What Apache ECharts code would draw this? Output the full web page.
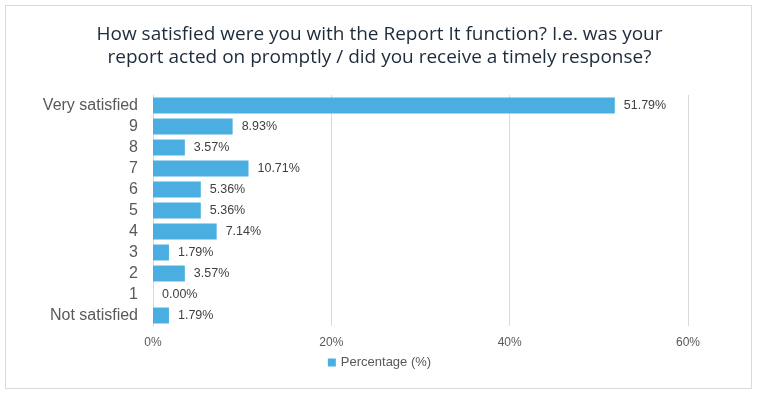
<!DOCTYPE html>
<html>
<head>
<meta charset="utf-8">
<script src="https://cdn.jsdelivr.net/npm/echarts@6/dist/echarts.min.js"></script>
<style>
  html, body { margin: 0; padding: 0; background: #fff; }
  #frame {
    position: absolute; left: 5px; top: 5px; width: 747px; height: 384px;
    border: 1px solid #d9d9d9; box-sizing: border-box;
  }
  #chart { position: absolute; left: 0; top: 0; width: 759px; height: 397px; }
</style>
</head>
<body>
<div id="frame"></div>
<div id="chart"></div>
<script>
// top to bottom order as in the picture
var categories = ['Very satisfied', '9', '8', '7', '6', '5', '4', '3', '2', '1', 'Not satisfied'];
var percentage = [51.79, 8.93, 3.57, 10.71, 5.36, 5.36, 7.14, 1.79, 3.57, 0.00, 1.79];
var xTicks = [0, 20, 40, 60];

var chart = echarts.init(document.getElementById('chart'));

var option = {
  animation: false,
  title: {
    text: 'How satisfied were you with the Report It function? I.e. was your\nreport acted on promptly / did you receive a timely response?',
    left: 'center',
    top: 18,
    textStyle: {
      fontFamily: 'Open Sans',
      fontSize: 19,
      fontWeight: 'normal',
      color: '#1d2b3a',
      lineHeight: 23
    }
  },
  legend: {
    data: ['Percentage (%)'],
    top: 351,
    left: 'center',
    itemWidth: 8,
    itemHeight: 8,
    itemGap: 4,
    icon: 'rect',
    textStyle: { fontFamily: 'Liberation Sans', fontSize: 13, color: '#595959' }
  },
  grid: {
    left: 153,
    right: 71,
    top: 95,
    height: 231
  },
  xAxis: {
    type: 'value',
    min: xTicks[0],
    max: xTicks[xTicks.length - 1],
    interval: 20,
    axisLine: { show: false },
    axisTick: { show: false },
    splitLine: { lineStyle: { color: '#d9d9d9' } },
    axisLabel: {
      formatter: '{value}%',
      fontFamily: 'Liberation Sans',
      fontSize: 12,
      color: '#595959',
      margin: 11
    }
  },
  yAxis: {
    type: 'category',
    inverse: true,
    data: categories,
    axisLine: { show: true, lineStyle: { color: '#d9d9d9' } },
    axisTick: { show: false },
    axisLabel: {
      fontFamily: 'Liberation Sans',
      fontSize: 16,
      color: '#595959',
      margin: 15
    }
  },
  series: [
    {
      name: 'Percentage (%)',
      type: 'bar',
      data: percentage,
      barCategoryGap: '24%',
      itemStyle: { color: '#4aaee0' },
      label: {
        show: true,
        position: 'right',
        distance: 9,
        formatter: function (p) { return p.value.toFixed(2) + '%'; },
        fontFamily: 'Liberation Sans',
        fontSize: 12.5,
        color: '#404040'
      }
    }
  ]
};

chart.setOption(option);
</script>
</body>
</html>
